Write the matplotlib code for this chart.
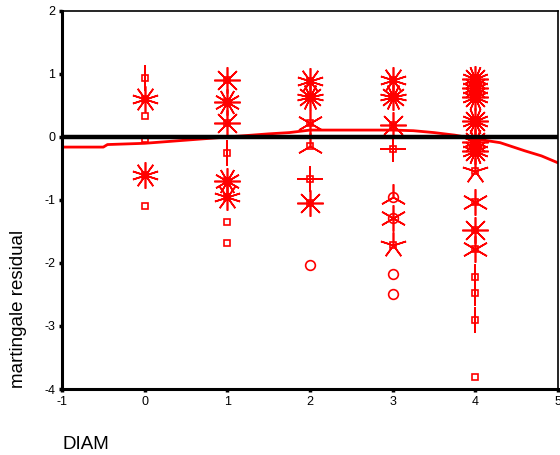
import matplotlib.pyplot as plt

plt.rcParams['font.family'] = ['Liberation Sans', 'DejaVu Sans']
plt.rcParams['axes.unicode_minus'] = False

# sunflower points: diam, residual, centre symbol, petal count
diam = [0, 0, 0, 0, 0, 0,
        1, 1, 1, 1, 1, 1, 1, 1,
        2, 2, 2, 2, 2, 2, 2,
        3, 3, 3, 3, 3, 3, 3, 3, 3,
        4, 4, 4, 4, 4, 4, 4, 4, 4, 4, 4, 4, 4, 4]
resid = [0.93, 0.61, 0.34, -0.03, -0.61, -1.09,
         0.91, 0.56, 0.23, -0.26, -0.70, -0.95, -1.35, -1.68,
         0.89, 0.64, 0.23, -0.14, -0.66, -1.05, -2.03,
         0.91, 0.63, 0.19, -0.19, -0.95, -1.29, -1.72, -2.17, -2.49,
         0.92, 0.78, 0.64, 0.25, -0.08, -0.22, -0.54, -1.03, -1.47, -1.77,
         -2.22, -2.47, -2.90, -3.81]
center = ['s', 's', 's', 's', 's', 's',
          's', 's', 's', 's', 's', 's', 's', 's',
          's', 's', 's', 's', 's', 's', 'o',
          's', 's', 's', 's', 'o', 'o', 's', 'o', 'o',
          's', 's', 's', 's', 's', 's', 's', 's', 's', 's',
          's', 's', 's', 's']
petals = [2, 10, 0, 0, 10, 0,
          8, 12, 8, 2, 12, 10, 0, 0,
          10, 14, 6, 3, 4, 8, 0,
          10, 14, 8, 4, 3, 6, 5, 0, 0,
          16, 16, 16, 16, 16, 16, 5, 6, 8, 6,
          2, 2, 2, 0]

# lowess fit
fit_x = [-1.0, -0.5, -0.45, 0.0, 0.5, 1.0, 1.5, 1.75, 2.0, 2.5, 3.0, 3.25,
         3.5, 3.75, 4.0, 4.3, 4.6, 4.8, 5.0]
fit_y = [-0.16, -0.16, -0.12, -0.10, -0.05, 0.00, 0.05, 0.07, 0.11, 0.11, 0.11, 0.10,
         0.07, 0.03, -0.03, -0.09, -0.22, -0.30, -0.41]

fig = plt.figure(figsize=(5.6, 4.55), dpi=100)
ax = fig.add_axes([62 / 560, 1 - 389 / 455, 496 / 560, 378 / 455])

red = '#ff0000'
ax.plot(fit_x, fit_y, color=red, lw=2.0, zorder=2)

for x, y, c, n in zip(diam, resid, center, petals):
    if c == 's':
        ax.plot(x, y, marker='s', ms=5, mfc='white', mec=red, mew=1.2,
                ls='none', zorder=3)
    else:
        ax.plot(x, y, marker='o', ms=7, mfc='white', mec=red, mew=1.2,
                ls='none', zorder=3)
    if n > 0:
        ax.plot(x, y, marker=(n, 2, 0), ms=19, mec=red, mew=1.2,
                ls='none', zorder=4)

ax.axhline(0, color='black', lw=3.2, zorder=5)

ax.set_xlim(-1, 5)
ax.set_ylim(-4, 2)
ax.set_xticks(range(-1, 6))
ax.set_yticks(range(-4, 3))
ax.tick_params(direction='out', length=2, width=2.5, labelsize=9, pad=3)

for side in ['left', 'bottom']:
    ax.spines[side].set_linewidth(2.2)
for side in ['top', 'right']:
    ax.spines[side].set_linewidth(1.2)

fig.text(63 / 560, 1 - 449 / 455, 'DIAM', fontsize=13.5, ha='left', va='baseline')
fig.text(19 / 560, 1 - 388 / 455, 'martingale residual', fontsize=13.5,
         rotation=90, ha='center', va='bottom')

fig.savefig('out.png', dpi=100)
